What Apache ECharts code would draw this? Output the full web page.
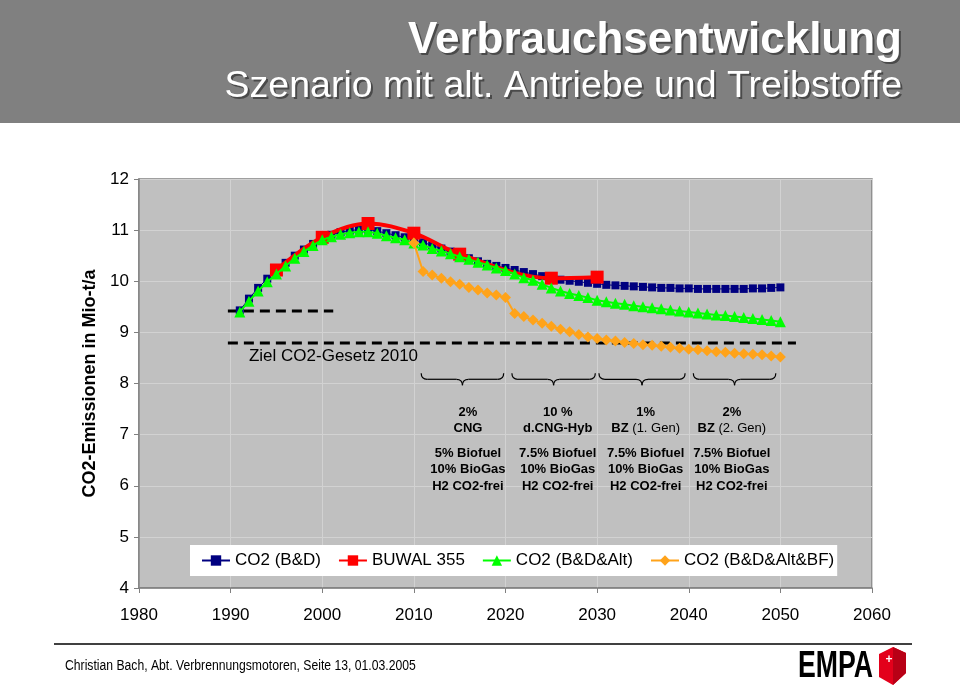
<!DOCTYPE html>
<html>
<head>
<meta charset="utf-8">
<script src="https://cdn.jsdelivr.net/npm/echarts@6/dist/echarts.min.js"></script>
<style>
html,body{margin:0;padding:0;background:#fff;}
#c{width:960px;height:687px;}
</style>
</head>
<body>
<div id="c"></div>
<script>
// ---------------- DATA ----------------
const FIRST_YEAR = 1991; // first year of the yearly series
const co2BD = [9.43,9.66,9.87,10.05,10.21,10.36,10.50,10.62,10.73,10.84,
  10.91,10.96,10.99,11.01,11.01,10.98,10.94,10.90,10.86,10.81,
  10.76,10.70,10.64,10.58,10.51,10.45,10.39,10.34,10.30,10.26,
  10.22,10.18,10.14,10.10,10.06,10.03,10.01,9.99,9.97,9.95,
  9.93,9.92,9.91,9.90,9.89,9.88,9.87,9.87,9.86,9.86,
  9.85,9.85,9.85,9.85,9.85,9.85,9.86,9.86,9.87,9.88];
const buwalYears = [1995,2000,2005,2010,2015,2025,2030];
const buwal = [10.22,10.86,11.13,10.94,10.53,10.06,10.08];
const co2Alt = [9.40,9.61,9.81,9.99,10.14,10.30,10.45,10.58,10.70,10.81,
  10.87,10.92,10.95,10.97,10.97,10.94,10.89,10.85,10.81,10.75,
  10.71,10.64,10.59,10.54,10.48,10.43,10.37,10.32,10.26,10.21,
  10.14,10.07,10.02,9.94,9.87,9.81,9.76,9.72,9.68,9.63,
  9.60,9.57,9.55,9.52,9.50,9.48,9.46,9.44,9.42,9.40,
  9.38,9.36,9.34,9.33,9.31,9.29,9.27,9.25,9.23,9.21];
const BF_FIRST_YEAR = 2010;
const co2AltBF = [10.75,10.19,10.12,10.06,9.99,9.94,9.88,9.83,9.77,9.73,
  9.68,9.37,9.31,9.24,9.18,9.12,9.06,9.01,8.96,8.91,
  8.88,8.85,8.83,8.80,8.78,8.76,8.75,8.73,8.71,8.69,
  8.67,8.66,8.64,8.62,8.61,8.59,8.58,8.57,8.56,8.54,8.52];
const zielShortX = [1989.7, 2001.2];
const zielShortY = 9.42;
const zielLongX = [1989.7, 2051.7];
const zielLongY = 8.79;
const seriesNames = ['CO2 (B&D)','BUWAL 355','CO2 (B&D&Alt)','CO2 (B&D&Alt&BF)'];
const xTicks = {min:1980, max:2060, step:10};
const yTicks = {min:4, max:12, step:1};
const zielLabel = 'Ziel CO2-Gesetz 2010';
const zielLabelPos = [1992.0, 8.54];
const braceRanges = [[2010.8,2019.8],[2020.7,2029.8],[2030.2,2039.6],[2040.5,2049.5]];
const braceTopY = 8.2;
const blockCenters = [2015.9, 2025.7, 2035.3, 2044.7];
const blockTopY = 7.44;
const blockHead = [
  ['{b|2%}','{b|CNG}'],
  ['{b|10 %}','{b|d.CNG-Hyb}'],
  ['{b|1%}','{b|BZ} (1. Gen)'],
  ['{b|2%}','{b|BZ} (2. Gen)']
];
const blockBody = [
  ['5% Biofuel','10% BioGas','H2 CO2-frei'],
  ['7.5% Biofuel','10% BioGas','H2 CO2-frei'],
  ['7.5% Biofuel','10% BioGas','H2 CO2-frei'],
  ['7.5% Biofuel','10% BioGas','H2 CO2-frei']
];
const titleText = 'Verbrauchsentwicklung';
const subtitleText = 'Szenario mit alt. Antriebe und Treibstoffe';
const footerText = 'Christian Bach, Abt. Verbrennungsmotoren, Seite 13, 01.03.2005';
const yAxisName = 'CO2-Emissionen in Mio-t/a';

// ---------------- BUILD ----------------
const FF = "'Liberation Sans', Arial, sans-serif";
const pairs = (start, arr) => arr.map((v,i) => [start + i, v]);
const chart = echarts.init(document.getElementById('c'), null, {renderer:'canvas'});

const option = {
  animation: false,
  backgroundColor: '#ffffff',
  grid: {left:139, top:179, width:733, height:409, show:true,
         backgroundColor:'#c0c0c0', borderColor:'#808080', borderWidth:1.5},
  legend: {
    data: seriesNames, left:190, top:545, backgroundColor:'#ffffff',
    padding:[7,3,7,11], itemGap:17, itemWidth:28, itemHeight:13,
    textStyle:{fontSize:17, color:'#000', fontFamily:FF}
  },
  xAxis: {
    type:'value', min:xTicks.min, max:xTicks.max, interval:xTicks.step,
    axisLine:{show:true, lineStyle:{color:'#808080', width:1.5}},
    axisTick:{show:true, length:5, lineStyle:{color:'#808080'}},
    axisLabel:{fontSize:17, color:'#000', margin:19, fontFamily:FF, formatter: v => String(v)},
    splitLine:{show:true, lineStyle:{color:'#d2d2d2', width:1}}
  },
  yAxis: {
    type:'value', min:yTicks.min, max:yTicks.max, interval:yTicks.step,
    name: yAxisName, nameLocation:'middle', nameGap:40, nameRotate:90,
    nameTextStyle:{fontSize:18, fontWeight:'bold', color:'#000', fontFamily:FF},
    axisLine:{show:true, lineStyle:{color:'#808080', width:1.5}},
    axisTick:{show:true, length:5, lineStyle:{color:'#808080'}},
    axisLabel:{fontSize:17, color:'#000', margin:10, fontFamily:FF},
    splitLine:{show:true, lineStyle:{color:'#d2d2d2', width:1}}
  },
  series: [
    {name:'ziel1', type:'line', data:zielShortX.map(x=>[x,zielShortY]), symbol:'none', silent:true,
     lineStyle:{color:'#000', width:3, type:[10,6]}, z:1},
    {name:'ziel2', type:'line', data:zielLongX.map(x=>[x,zielLongY]), symbol:'none', silent:true,
     lineStyle:{color:'#000', width:3, type:[10,6]}, z:1},
    {name:seriesNames[0], type:'line', data:pairs(FIRST_YEAR, co2BD), symbol:'rect', symbolSize:8,
     itemStyle:{color:'#000080'}, lineStyle:{color:'#000080', width:1}, z:2},
    {name:seriesNames[1], type:'line', data:buwalYears.map((y,i)=>[y, buwal[i]]), symbol:'rect', symbolSize:13,
     smooth:0.35, itemStyle:{color:'#ff0000'}, lineStyle:{color:'#ff0000', width:4}, z:3},
    {name:seriesNames[2], type:'line', data:pairs(FIRST_YEAR, co2Alt), symbol:'triangle', symbolSize:11,
     itemStyle:{color:'#00ff00'}, lineStyle:{color:'#00ff00', width:2}, z:4},
    {name:seriesNames[3], type:'line', data:pairs(BF_FIRST_YEAR, co2AltBF), symbol:'diamond', symbolSize:11,
     itemStyle:{color:'#ffa31a'}, lineStyle:{color:'#ffa31a', width:2}, z:5}
  ]
};
chart.setOption(option);

const P = (x,y) => chart.convertToPixel({gridIndex:0}, [x,y]);
const g = [];
// header band and titles
g.push({type:'rect', shape:{x:0,y:0,width:960,height:123}, style:{fill:'#808080'}, z:0});
g.push({type:'text', style:{text:titleText, x:904, y:43, align:'right', verticalAlign:'middle',
  fill:'#4a4a4a', font:'bold 44px '+FF}});
g.push({type:'text', style:{text:titleText, x:902, y:41, align:'right', verticalAlign:'middle',
  fill:'#ffffff', font:'bold 44px '+FF}});
g.push({type:'text', style:{text:subtitleText, x:904, y:89, align:'right', verticalAlign:'middle',
  fill:'#4a4a4a', font:'37.5px '+FF}});
g.push({type:'text', style:{text:subtitleText, x:902, y:87, align:'right', verticalAlign:'middle',
  fill:'#ffffff', font:'37.5px '+FF}});
// footer
g.push({type:'line', shape:{x1:54,y1:644,x2:912,y2:644}, style:{stroke:'#000', lineWidth:1.5}});
g.push({type:'text', x:65, y:666, scaleX:0.87, style:{text:footerText, x:0, y:0, align:'left', verticalAlign:'middle',
  fill:'#000', font:'14px '+FF}});
g.push({type:'text', x:798, y:667, scaleX:0.74, style:{text:'EMPA', x:0, y:0, align:'left', verticalAlign:'middle',
  fill:'#000', font:'bold 36px '+FF}});
g.push({type:'polygon', shape:{points:[[879,654],[893,647],[906,653],[906,673],[893,685],[879,677]]},
  style:{fill:'#e3001b'}});
g.push({type:'polygon', shape:{points:[[893,647],[906,653],[906,673],[893,685]]},
  style:{fill:'#b80016'}});
g.push({type:'text', style:{text:'+', x:889, y:660, align:'center', verticalAlign:'middle', fill:'#fff', font:'bold 12px '+FF}});
// Ziel label
const zp = P(zielLabelPos[0], zielLabelPos[1]);
g.push({type:'text', style:{text:zielLabel, x:zp[0], y:zp[1], align:'left', verticalAlign:'middle',
  fill:'#000', font:'17px '+FF}, z:10});
// braces
braceRanges.forEach(r => {
  const a = P(r[0], braceTopY), b = P(r[1], braceTopY);
  const x0=a[0], x1=b[0], xc=(x0+x1)/2, y0=a[1], y1=y0+6, y2=y0+12, k=6;
  const st = {stroke:'#000', lineWidth:1.2, fill:null};
  g.push({type:'bezierCurve', shape:{x1:x0,y1:y0,cpx1:x0,cpy1:y1,x2:x0+k,y2:y1}, style:st, z:10});
  g.push({type:'line', shape:{x1:x0+k,y1:y1,x2:xc-k,y2:y1}, style:st, z:10});
  g.push({type:'bezierCurve', shape:{x1:xc-k,y1:y1,cpx1:xc,cpy1:y1,x2:xc,y2:y2}, style:st, z:10});
  g.push({type:'bezierCurve', shape:{x1:xc,y1:y2,cpx1:xc,cpy1:y1,x2:xc+k,y2:y1}, style:st, z:10});
  g.push({type:'line', shape:{x1:xc+k,y1:y1,x2:x1-k,y2:y1}, style:st, z:10});
  g.push({type:'bezierCurve', shape:{x1:x1-k,y1:y1,cpx1:x1,cpy1:y1,x2:x1,y2:y0}, style:st, z:10});
});
// text blocks
const offs = [0,16,41,57,74];
blockCenters.forEach((cx,i) => {
  const p0 = P(cx, blockTopY);
  const lines = blockHead[i].concat(blockBody[i].map(t => '{b|'+t+'}'));
  lines.forEach((t,j) => {
    g.push({type:'text', style:{text:t, x:p0[0], y:p0[1]+offs[j], align:'center', verticalAlign:'middle',
      fill:'#000', font:'13px '+FF,
      rich:{b:{fontWeight:'bold', fontSize:13, fontFamily:FF, fill:'#000'}}}, z:10});
  });
});
chart.setOption({graphic: g});
</script>
</body>
</html>
